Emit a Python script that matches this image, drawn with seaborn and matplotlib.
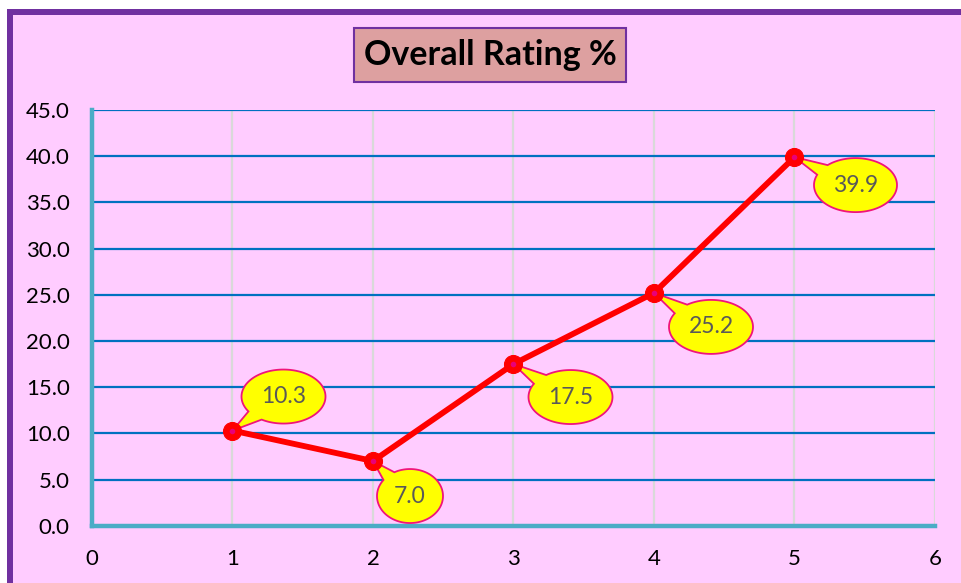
import numpy as np
import pandas as pd
import matplotlib
matplotlib.use("Agg")
import matplotlib.pyplot as plt
import matplotlib.transforms as mtransforms
from matplotlib.patches import Polygon, Rectangle
from matplotlib.ticker import FormatStrFormatter
import seaborn as sns

# ---- data ----
ratings = [1, 2, 3, 4, 5]
percent = [10.3, 7.0, 17.5, 25.2, 39.9]
x_ticks = [0, 1, 2, 3, 4, 5, 6]
y_ticks = [0, 5, 10, 15, 20, 25, 30, 35, 40, 45]
chart_title = "Overall Rating %"

# ---- style (callout offsets in pixels, ellipse sizes) ----
callout_offsets = [(51, 34), (37, -35), (57, -33), (57, -34), (61, -28)]
callout_widths = [84, 66, 84, 84, 83]
callout_height = 54

sns.set_style("white")
plt.rcParams['font.family'] = ['Lato', 'DejaVu Sans']

PINK = '#FFCCFF'
PURPLE = '#7030A0'
W, H = 962, 583
ident = mtransforms.IdentityTransform()

fig = plt.figure(figsize=(W / 100, H / 100), dpi=100, facecolor='white')

# frame background with purple border (top and left edges visible)
fig.patches.append(Rectangle((7, 0), W, H - 9, fc=PINK, ec='none', transform=ident, zorder=-10))
fig.patches.append(Rectangle((7, H - 15), W, 6, fc=PURPLE, ec='none', transform=ident, zorder=-9))
fig.patches.append(Rectangle((7, 0), 6, H - 9, fc=PURPLE, ec='none', transform=ident, zorder=-9))

ax = fig.add_axes([92 / W, (H - 525.7) / H, 843 / W, 415.7 / H])
ax.set_facecolor('none')
ax.set_zorder(5)

df = pd.DataFrame({'rating': ratings, 'percent': percent})
sns.lineplot(data=df, x='rating', y='percent', ax=ax, color='#FF0000', lw=4.2,
             marker='o', markersize=13, markeredgecolor='#FF0000',
             markerfacecolor='#FF0000', zorder=5, clip_on=False)
sns.scatterplot(data=df, x='rating', y='percent', ax=ax, color='#E8007A', s=16,
                linewidth=0, zorder=6, clip_on=False)

ax.set_xlim(x_ticks[0], x_ticks[-1])
ax.set_ylim(y_ticks[0], y_ticks[-1])
ax.set_xticks(x_ticks)
ax.set_yticks(y_ticks)
ax.yaxis.set_major_formatter(FormatStrFormatter('%.1f'))
ax.set_xlabel('')
ax.set_ylabel('')

ax.set_axisbelow(True)
ax.yaxis.grid(True, color='#0070C0', lw=1.6)
ax.xaxis.grid(True, color='#D9D9D9', lw=1.6)
for s in ['top', 'right']:
    ax.spines[s].set_visible(False)
for s in ['left', 'bottom']:
    ax.spines[s].set_color('#4BACC6')
    ax.spines[s].set_linewidth(3.2)
    ax.spines[s].set_zorder(3)
ax.tick_params(axis='both', length=0, labelsize=16, colors='black')
ax.tick_params(axis='y', pad=16)
ax.tick_params(axis='x', pad=17)

# callouts
for xv, yv, (dx, dy), ew in zip(ratings, percent, callout_offsets, callout_widths):
    a, b = ew / 2, callout_height / 2
    theta0 = np.arctan2(-dy / b, -dx / a)
    da = 0.22
    ts = np.linspace(theta0 + da, theta0 + 2 * np.pi - da, 120)
    pts = [(dx + a * np.cos(t), dy + b * np.sin(t)) for t in ts]
    pts.append((0, 0))
    tr = mtransforms.ScaledTranslation(xv, yv, ax.transData)
    poly = Polygon(pts, closed=True, fc='#FFFF00', ec='#F0147A', lw=1.3,
                   transform=tr, zorder=4, clip_on=False)
    ax.add_patch(poly)
    ax.annotate(f"{yv:.1f}", xy=(xv, yv), xytext=(dx, dy), textcoords='offset pixels',
                ha='center', va='center', fontsize=16.5, color='#595959', zorder=7)

ax.set_xlim(x_ticks[0], x_ticks[-1])
ax.set_ylim(y_ticks[0], y_ticks[-1])

# title box
fig.patches.append(Rectangle((354, H - 82), 272, 54, fc='#DDA0A0', ec=PURPLE, lw=1.5,
                             transform=ident, zorder=1))
fig.text(490 / W, 1 - 55 / H, chart_title, ha='center', va='center', fontsize=24.5,
         fontweight='bold', color='black', zorder=2)

fig.savefig('out.png', dpi=100, facecolor='white')
